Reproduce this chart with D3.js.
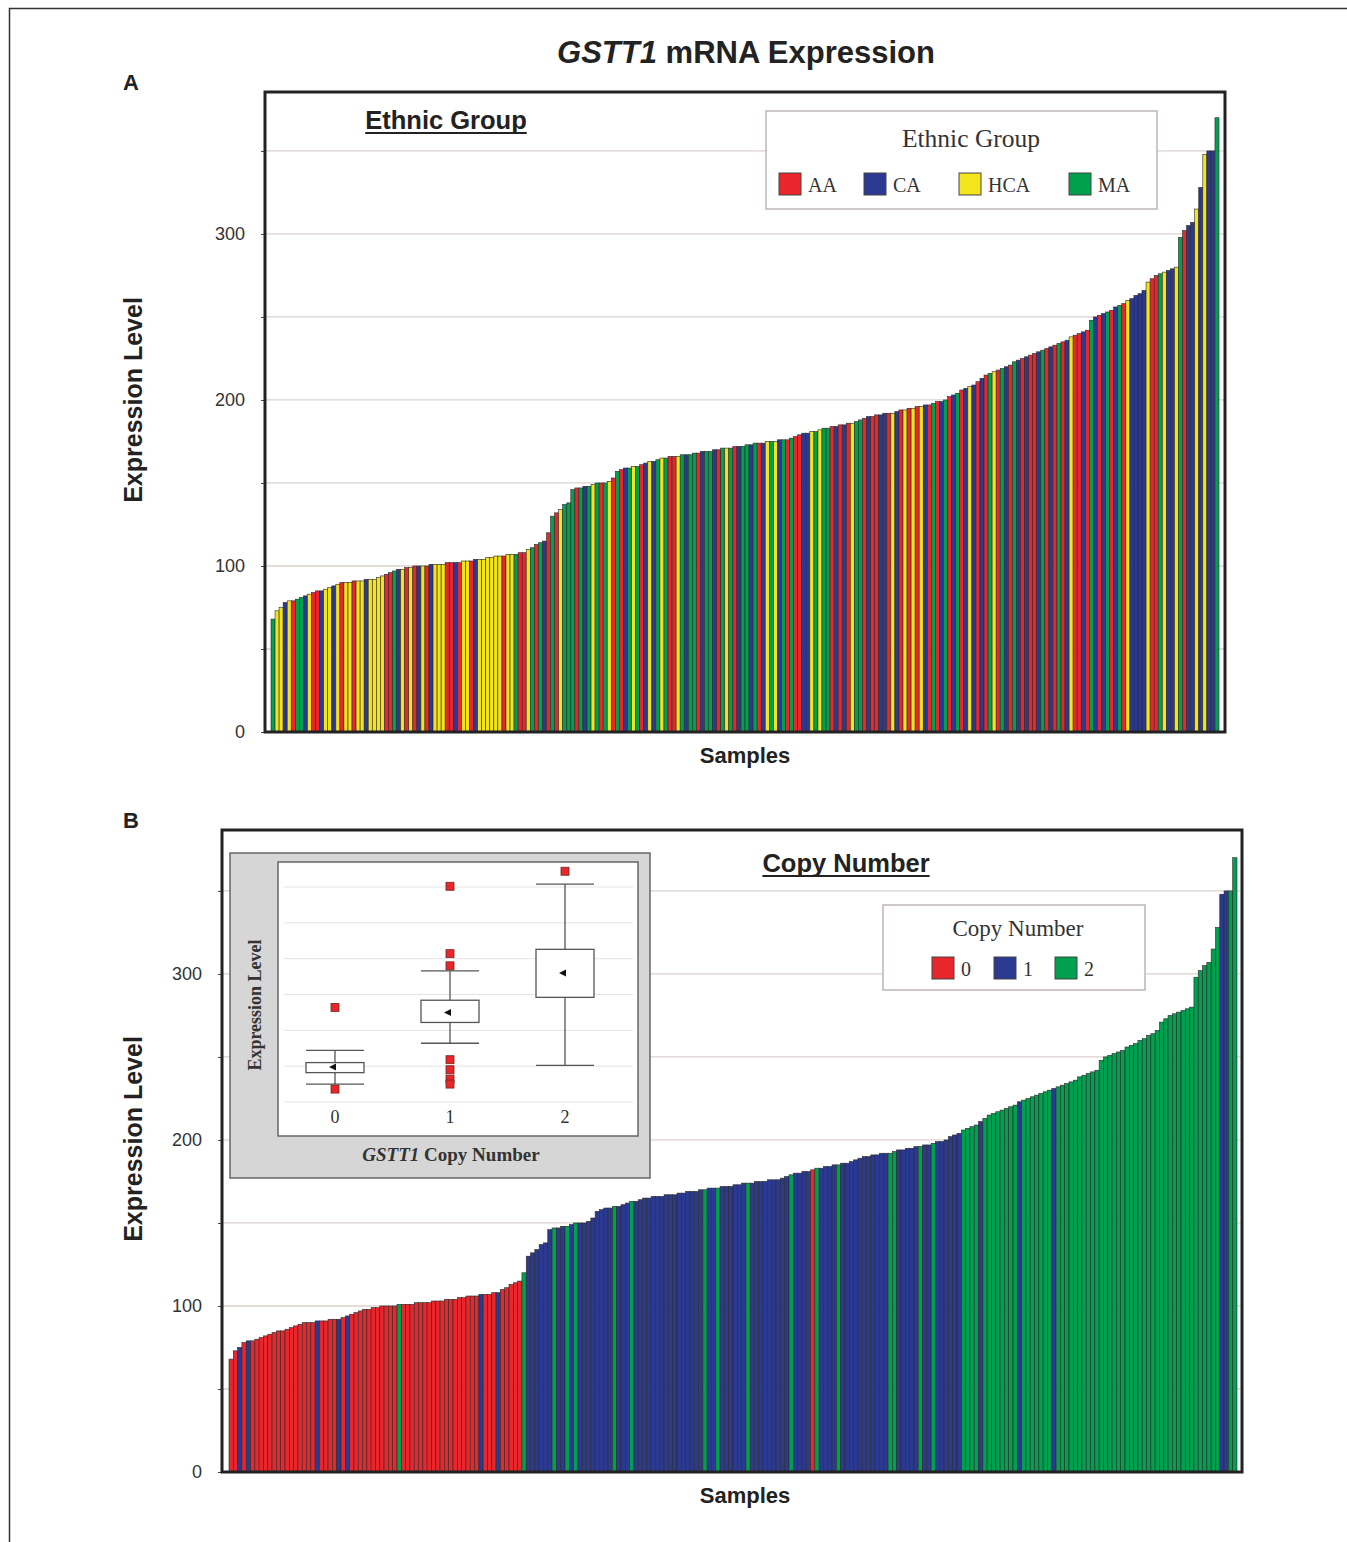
<!DOCTYPE html>
<html>
<head>
<meta charset="utf-8">
<script src="https://cdn.jsdelivr.net/npm/d3@7"></script>
<style>
  body { margin: 0; background: #fff; }
  svg { display: block; }
</style>
</head>
<body>
<div id="chart"></div>
<script>
// Expression level of each sample, sorted ascending (same samples in both panels)
const expression = [
  68, 73, 75, 78, 79, 79, 80, 81, 82, 83,
  84, 85, 85, 86, 87, 88, 89, 90, 90, 90,
  91, 91, 91, 92, 92, 92, 93, 94, 95, 96,
  97, 98, 98, 99, 99, 100, 100, 100, 100, 101,
  101, 101, 101, 102, 102, 102, 102, 103, 103, 103,
  104, 104, 104, 105, 105, 106, 106, 106, 107, 107,
  107, 108, 108, 110, 111, 113, 114, 115, 120, 130,
  132, 134, 137, 138, 146, 147, 147, 148, 148, 149,
  150, 150, 150, 151, 153, 157, 158, 159, 159, 160,
  160, 161, 162, 163, 163, 164, 165, 165, 166, 166,
  166, 167, 167, 167, 168, 168, 169, 169, 169, 170,
  170, 171, 171, 171, 172, 172, 172, 173, 173, 174,
  174, 174, 175, 175, 175, 176, 176, 176, 177, 178,
  179, 180, 180, 181, 181, 182, 183, 183, 184, 184,
  185, 185, 186, 186, 187, 188, 189, 190, 190, 191,
  191, 192, 192, 192, 193, 194, 194, 195, 195, 196,
  196, 197, 197, 198, 199, 199, 200, 202, 203, 204,
  206, 207, 208, 209, 211, 213, 215, 216, 217, 218,
  219, 220, 221, 223, 224, 225, 226, 227, 228, 229,
  230, 231, 232, 233, 234, 235, 236, 238, 239, 240,
  241, 242, 248, 250, 251, 252, 253, 254, 256, 257,
  258, 260, 261, 263, 264, 266, 271, 273, 275, 276,
  277, 278, 279, 280, 298, 302, 305, 307, 315, 328,
  348, 350, 350, 370
];

// Ethnic group of each sample: A = AA, C = CA, Y = HCA, M = MA
const ethnicCodes = [
  "MYYCYAMMCY", "AACYYCYAYY", "AYYCYYYYAA", "MCYAYACYAC", "YYYAACAYYA",
  "CYYYYYYAYY", "MAAYMA",
  "MCAMAYMMMA", "MCMYMAMYAM", "ACMYMACYCM", "YMAAYMCMMA", "CMMCAMYMAC",
  "MMCMACYMYC", "MAMAACCYMY", "MMACAC", "AYM",
  "MACAACCAYC", "AYAYAYCAMA", "CMACMACYCA", "CAMYAMCAMC", "ACAACMACAM",
  "ACYAACAMCA", "CMACMAYCCC", "CYAAMYCCYM", "ACCYCYCCM"
].join("");

// GSTT1 copy number of each sample
const copyCodes = [
  "0010100000", "0000000000", "1000010100", "0000000002", "0000000000",
  "0000000010", "0010000021", "1111121121", "2111111112", "1112111111",
  "1111111111", "2112111111", "2111111111", "2111102111", "1211111111",
  "1112211111", "2112111111", "2222122222", "2221222222", "2122222222",
  "2222222222", "2222222222", "2222222222", "1122"
].join("");

const ethnicKeys = ["A", "C", "Y", "M"];
const ethnicLabels = ["AA", "CA", "HCA", "MA"];
const copyKeys = ["0", "1", "2"];
const copyLabels = ["0", "1", "2"];

const gridValues = [0, 50, 100, 150, 200, 250, 300, 350];

// Box plot summary of the inset (expression level by copy number)
const boxGroups = ["0", "1", "2"];
const boxLow = [75, 132, 101];
const boxQ1 = [91, 161, 196];
const boxQ3 = [105, 192, 263];
const boxHigh = [122, 233, 354];
const boxMean = [99, 175, 230];
const boxOutliers = [[182, 68], [351, 257, 240, 109, 95, 82, 75], [372]];
const insetGrid = [50, 100, 150, 200, 250, 300, 350];

const RED = "#e8262b";
const BLUE = "#2b3990";
const YELLOW = "#f4e41e";
const GREEN = "#00a04f";

const ethnicColor = d3.scaleOrdinal().domain(ethnicKeys).range([RED, BLUE, YELLOW, GREEN]);
const copyColor = d3.scaleOrdinal().domain(copyKeys).range([RED, BLUE, GREEN]);

const SANS = "'Liberation Sans', Arial, sans-serif";
const SERIF = "'Liberation Serif', 'Times New Roman', serif";

const svg = d3.select("#chart").append("svg").attr("width", 1347).attr("height", 1542);

// Outer figure border (top and left edges visible)
svg.append("path")
  .attr("d", "M9.5,1542V8.5H1347")
  .attr("fill", "none")
  .attr("stroke", "#333")
  .attr("stroke-width", 1.5);

// Figure title
svg.append("text")
  .attr("x", 746).attr("y", 63)
  .attr("text-anchor", "middle")
  .attr("font-family", SANS).attr("font-weight", "bold").attr("font-size", 31)
  .attr("fill", "#222")
  .call((t) => {
    t.append("tspan").attr("font-style", "italic").text("GSTT1");
    t.append("tspan").text(" mRNA Expression");
  });

// Draw one bar panel
function drawPanel(cfg) {
  const x = d3.scaleBand().domain(d3.range(expression.length)).range([cfg.barLeft, cfg.barRight]).padding(0);
  const y = d3.scaleLinear().domain([0, cfg.yMax]).range([cfg.bottom, cfg.top]);
  const g = svg.append("g");

  // Panel letter
  g.append("text")
    .attr("x", 131).attr("y", cfg.top - 2)
    .attr("text-anchor", "middle")
    .attr("font-family", SANS).attr("font-weight", "bold").attr("font-size", 22)
    .attr("fill", "#222")
    .text(cfg.letter);

  // Gridlines
  g.selectAll("line.grid")
    .data(gridValues.filter((v) => v > 0 && v < cfg.yMax))
    .join("line")
    .attr("class", "grid")
    .attr("x1", cfg.left).attr("x2", cfg.right)
    .attr("y1", (d) => y(d)).attr("y2", (d) => y(d))
    .attr("stroke", "#dcd2ce")
    .attr("stroke-width", 1.3);

  // Bars
  g.selectAll("rect.bar")
    .data(expression)
    .join("rect")
    .attr("class", "bar")
    .attr("x", (d, i) => x(i))
    .attr("y", (d) => y(d))
    .attr("width", x.bandwidth())
    .attr("height", (d) => y(0) - y(d))
    .attr("fill", (d, i) => cfg.color(i))
    .attr("stroke", "#2a2a2a")
    .attr("stroke-width", 0.6);

  // Y axis
  const axis = d3.axisLeft(y)
    .tickValues(gridValues.filter((v) => v < cfg.yMax))
    .tickSize(4)
    .tickPadding(16)
    .tickFormat((d) => (d % 100 === 0 ? d : ""));
  g.append("g")
    .attr("transform", `translate(${cfg.left},0)`)
    .call(axis)
    .call((a) => a.select(".domain").remove())
    .call((a) => a.selectAll("line").attr("stroke", "#444"))
    .call((a) => a.selectAll("text")
      .attr("font-family", SANS).attr("font-size", 18).attr("fill", "#333"));

  // Frame
  g.append("rect")
    .attr("x", cfg.left).attr("y", cfg.top)
    .attr("width", cfg.right - cfg.left).attr("height", cfg.bottom - cfg.top)
    .attr("fill", "none")
    .attr("stroke", "#222")
    .attr("stroke-width", 3);

  // Axis titles
  g.append("text")
    .attr("transform", `translate(142,${(cfg.top + cfg.bottom) / 2 - 12}) rotate(-90)`)
    .attr("text-anchor", "middle")
    .attr("font-family", SANS).attr("font-weight", "bold").attr("font-size", 25)
    .attr("fill", "#222")
    .text("Expression Level");
  g.append("text")
    .attr("x", 745).attr("y", cfg.bottom + 31)
    .attr("text-anchor", "middle")
    .attr("font-family", SANS).attr("font-weight", "bold").attr("font-size", 22)
    .attr("fill", "#222")
    .text("Samples");

  // Underlined heading
  const head = g.append("text")
    .attr("x", cfg.headX).attr("y", cfg.headY)
    .attr("text-anchor", "middle")
    .attr("font-family", SANS).attr("font-weight", "bold").attr("font-size", 25.5)
    .attr("fill", "#222")
    .text(cfg.heading);
  const w = head.node().getComputedTextLength();
  g.append("line")
    .attr("x1", cfg.headX - w / 2).attr("x2", cfg.headX + w / 2)
    .attr("y1", cfg.headY + 4).attr("y2", cfg.headY + 4)
    .attr("stroke", "#222").attr("stroke-width", 2);

  // Legend
  const lg = g.append("g");
  lg.append("rect")
    .attr("x", cfg.legend.x).attr("y", cfg.legend.y)
    .attr("width", cfg.legend.w).attr("height", cfg.legend.h)
    .attr("fill", "#fff")
    .attr("stroke", "#bdb5b3")
    .attr("stroke-width", 1.5);
  lg.append("text")
    .attr("x", cfg.legend.titleX).attr("y", cfg.legend.titleY)
    .attr("text-anchor", "middle")
    .attr("font-family", SERIF).attr("font-size", cfg.legend.titleSize)
    .attr("fill", "#333")
    .text(cfg.legend.title);
  const items = lg.selectAll("g.item")
    .data(cfg.legend.keys)
    .join("g")
    .attr("class", "item")
    .attr("transform", (d, i) => `translate(${cfg.legend.itemX[i]},${cfg.legend.itemY})`);
  items.append("rect")
    .attr("width", 22).attr("height", 22)
    .attr("fill", (d) => cfg.legend.color(d))
    .attr("stroke", "#444").attr("stroke-width", 1);
  items.append("text")
    .attr("x", 29).attr("y", 19)
    .attr("font-family", SERIF).attr("font-size", 20)
    .attr("fill", "#333")
    .text((d, i) => cfg.legend.labels[i]);
}

// Panel A: coloured by ethnic group
drawPanel({
  letter: "A",
  left: 265, right: 1225, top: 92, bottom: 732,
  barLeft: 271, barRight: 1219,
  yMax: 385.5,
  color: (i) => ethnicColor(ethnicCodes[i]),
  heading: "Ethnic Group", headX: 446, headY: 129,
  legend: {
    x: 766, y: 111, w: 391, h: 98,
    title: "Ethnic Group", titleX: 971, titleY: 147, titleSize: 25.5,
    keys: ethnicKeys, labels: ethnicLabels, color: ethnicColor,
    itemX: [779, 864, 959, 1069], itemY: 173
  }
});

// Panel B: coloured by copy number
drawPanel({
  letter: "B",
  left: 222, right: 1242, top: 830, bottom: 1472,
  barLeft: 229, barRight: 1237,
  yMax: 386.7,
  color: (i) => copyColor(copyCodes[i]),
  heading: "Copy Number", headX: 846, headY: 872,
  legend: {
    x: 883, y: 905, w: 262, h: 85,
    title: "Copy Number", titleX: 1018, titleY: 936, titleSize: 23,
    keys: copyKeys, labels: copyLabels, color: copyColor,
    itemX: [932, 994, 1055], itemY: 957
  }
});

// Inset box plot
function drawInset() {
  const g = svg.append("g");
  g.append("rect")
    .attr("x", 230).attr("y", 853).attr("width", 420).attr("height", 325)
    .attr("fill", "#d6d6d6").attr("stroke", "#666").attr("stroke-width", 1.5);
  g.append("rect")
    .attr("x", 278).attr("y", 862).attr("width", 360).attr("height", 274)
    .attr("fill", "#fff").attr("stroke", "#666").attr("stroke-width", 1.5);

  const x = d3.scaleBand().domain(boxGroups).range([277.5, 622.5]);
  const y = d3.scaleLinear().domain([50, 350]).range([1102, 887]);
  const cx = (i) => x(boxGroups[i]) + x.bandwidth() / 2;
  const half = 29;

  // Gridlines
  g.selectAll("line.igrid")
    .data(insetGrid)
    .join("line")
    .attr("x1", 284).attr("x2", 633)
    .attr("y1", (d) => y(d)).attr("y2", (d) => y(d))
    .attr("stroke", "#e4e4e4").attr("stroke-width", 1);

  const boxes = g.selectAll("g.box")
    .data(boxGroups)
    .join("g")
    .attr("class", "box");

  // Whisker stems
  boxes.append("line")
    .attr("x1", (d, i) => cx(i)).attr("x2", (d, i) => cx(i))
    .attr("y1", (d, i) => y(boxHigh[i])).attr("y2", (d, i) => y(boxLow[i]))
    .attr("stroke", "#555").attr("stroke-width", 1.3);
  // Whisker caps
  ["high", "low"].forEach((k) => {
    boxes.append("line")
      .attr("x1", (d, i) => cx(i) - half).attr("x2", (d, i) => cx(i) + half)
      .attr("y1", (d, i) => y(k === "high" ? boxHigh[i] : boxLow[i]))
      .attr("y2", (d, i) => y(k === "high" ? boxHigh[i] : boxLow[i]))
      .attr("stroke", "#555").attr("stroke-width", 1.3);
  });
  // Boxes
  boxes.append("rect")
    .attr("x", (d, i) => cx(i) - half)
    .attr("y", (d, i) => y(boxQ3[i]))
    .attr("width", half * 2)
    .attr("height", (d, i) => y(boxQ1[i]) - y(boxQ3[i]))
    .attr("fill", "#fff").attr("stroke", "#555").attr("stroke-width", 1.3);
  // Mean markers
  boxes.append("path")
    .attr("d", (d, i) => {
      const px = cx(i) - 1, py = y(boxMean[i]);
      return `M${px - 5},${py}L${px + 2},${py - 3.5}L${px + 2},${py + 3.5}Z`;
    })
    .attr("fill", "#111");
  // Outliers
  boxes.each(function (d, i) {
    d3.select(this).selectAll("rect.out")
      .data(boxOutliers[i])
      .join("rect")
      .attr("class", "out")
      .attr("x", cx(i) - 4).attr("y", (v) => y(v) - 4)
      .attr("width", 8).attr("height", 8)
      .attr("fill", RED).attr("stroke", "#6b2a20").attr("stroke-width", 0.8);
  });

  // Category labels
  g.selectAll("text.cat")
    .data(boxGroups)
    .join("text")
    .attr("x", (d, i) => cx(i)).attr("y", 1123)
    .attr("text-anchor", "middle")
    .attr("font-family", SERIF).attr("font-size", 18)
    .attr("fill", "#333")
    .text((d) => d);

  // Axis titles
  g.append("text")
    .attr("transform", "translate(261,1005) rotate(-90)")
    .attr("text-anchor", "middle")
    .attr("font-family", SERIF).attr("font-weight", "bold").attr("font-size", 18)
    .attr("fill", "#333")
    .text("Expression Level");
  g.append("text")
    .attr("x", 451).attr("y", 1161)
    .attr("text-anchor", "middle")
    .attr("font-family", SERIF).attr("font-weight", "bold").attr("font-size", 19)
    .attr("fill", "#333")
    .call((t) => {
      t.append("tspan").attr("font-style", "italic").text("GSTT1");
      t.append("tspan").text(" Copy Number");
    });
}

drawInset();
</script>
</body>
</html>
